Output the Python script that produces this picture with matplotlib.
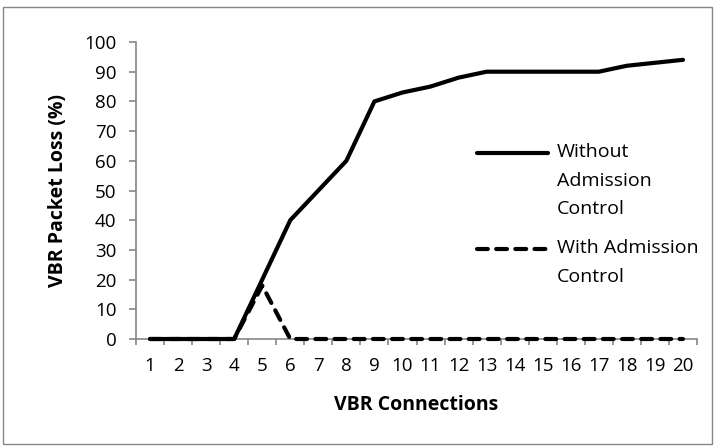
import matplotlib.pyplot as plt
from matplotlib.lines import Line2D
from matplotlib.patches import Rectangle

plt.rcParams['font.family'] = ['Open Sans', 'DejaVu Sans']

connections = list(range(1, 21))
without_ac = [0, 0, 0, 0, 20, 40, 50, 60, 80, 83, 85, 88, 90, 90, 90, 90, 90, 92, 93, 94]
with_ac = [0, 0, 0, 0, 18, 0, 0, 0, 0, 0, 0, 0, 0, 0, 0, 0, 0, 0, 0, 0]
labels = ['Without\nAdmission\nControl', 'With Admission\nControl']

fig = plt.figure(figsize=(7.17, 4.47), dpi=100)
ax = fig.add_axes([136 / 717, 1 - 339 / 447, 561 / 717, 297 / 447])

ax.plot(connections, without_ac, color='black', lw=3, solid_capstyle='round',
        solid_joinstyle='round', clip_on=False, zorder=3)
ax.plot(connections, with_ac, color='black', lw=3, dashes=(2.6, 2.0), dash_capstyle='round',
        clip_on=False, zorder=3)

ax.set_xlim(0.5, 20.5)
ax.set_ylim(0, 100)
ax.set_yticks(range(0, 101, 10))
ax.set_xticks(connections)
ax.set_xticks([i + 0.5 for i in range(0, 21)], minor=True)
ax.tick_params(axis='x', which='major', length=0, pad=13, labelsize=13.5)
ax.tick_params(axis='x', which='minor', length=4, color='#868686', width=1.2)
ax.tick_params(axis='y', length=5, color='#868686', width=1.2, labelsize=13.5, pad=9)

for side in ['top', 'right']:
    ax.spines[side].set_visible(False)
for side in ['left', 'bottom']:
    ax.spines[side].set_color('#868686')
    ax.spines[side].set_linewidth(1.2)

ax.set_xlabel('VBR Connections', fontsize=14, fontweight='bold', labelpad=14)
ax.set_ylabel('VBR Packet Loss (%)', fontsize=14, fontweight='bold', labelpad=12)

# legend drawn by hand so the handle sits on the first text line
leg_y = [153, 249]
styles = [dict(), dict(dashes=(2.6, 2.0), dash_capstyle='round')]
for y, lab, st in zip(leg_y, labels, styles):
    fig.add_artist(Line2D([477 / 717, 548 / 717], [1 - y / 447] * 2, color='black', lw=3,
                          solid_capstyle='round', **st))
    fig.text(557 / 717, 1 - (y - 10) / 447, lab, fontsize=14, va='top', ha='left',
             linespacing=1.75)

fig.add_artist(Rectangle((3 / 717, 3 / 447), 709 / 717, 437 / 447, transform=fig.transFigure,
                         fill=False, edgecolor='#868686', lw=1))

fig.savefig('out.png', dpi=100)
